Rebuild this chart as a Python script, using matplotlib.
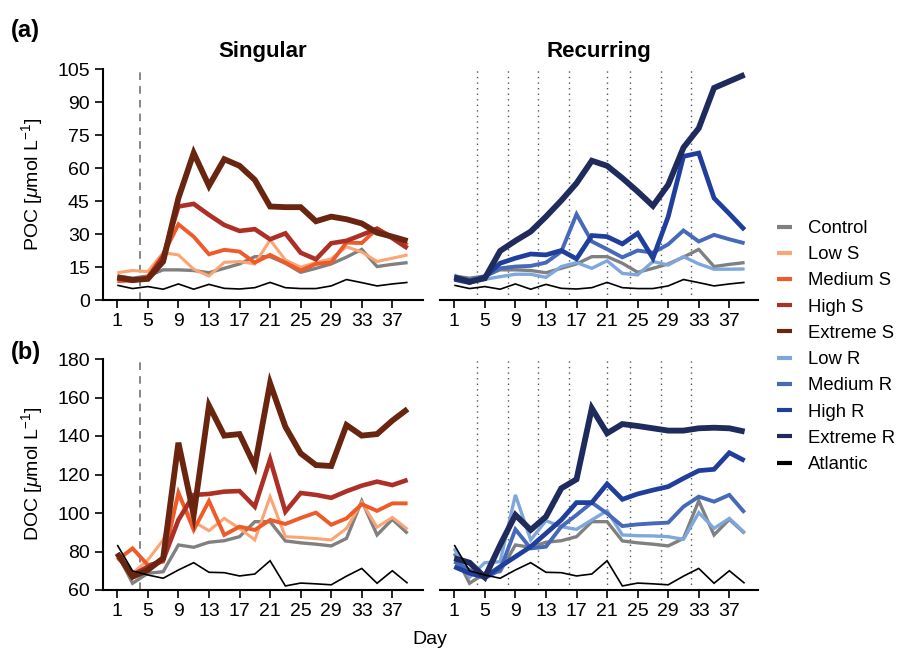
import matplotlib
matplotlib.use("Agg")
import matplotlib.pyplot as plt
from matplotlib.lines import Line2D

plt.rcParams["font.family"] = ["Liberation Sans", "DejaVu Sans"]
plt.rcParams["mathtext.fontset"] = "custom"
plt.rcParams["mathtext.rm"] = "Liberation Sans"
plt.rcParams["mathtext.it"] = "Liberation Sans:italic"

# Sampling days
days = list(range(1, 40, 2))

# ---- POC (µmol L-1) ----
poc_control = [10.9, 9.9, 10.9, 13.7, 13.7, 13.4, 12.4, 14.4, 16.4, 19.7,
               19.7, 16.7, 12.6, 14.4, 16.4, 19.5, 23.0, 15.2, 16.2, 17.0]
poc_atlantic = [6.7, 5.2, 6.1, 4.9, 7.3, 4.9, 7.1, 5.3, 5.0, 5.6,
                8.0, 5.6, 5.2, 5.2, 6.4, 9.3, 7.9, 6.4, 7.3, 8.0]
poc_low_s = [12.4, 13.4, 12.9, 21.5, 20.5, 14.0, 10.9, 17.1, 17.5, 16.4,
             27.3, 18.2, 14.9, 17.0, 18.7, 24.2, 21.8, 17.5, 19.0, 20.5]
poc_medium_s = [8.6, 8.8, 10.6, 20.5, 34.4, 28.8, 20.8, 22.8, 22.0, 17.0,
                20.5, 17.0, 13.4, 16.4, 17.1, 26.1, 25.9, 32.4, 28.8, 25.0]
poc_high_s = [9.9, 8.8, 9.9, 19.7, 42.5, 43.7, 38.7, 34.1, 31.4, 32.2,
              27.6, 30.3, 21.5, 18.5, 25.8, 26.9, 29.6, 32.4, 28.1, 23.5]
poc_extreme_s = [10.3, 9.1, 9.6, 17.5, 46.3, 66.8, 51.9, 64.0, 61.0, 54.6,
                 42.5, 42.2, 42.2, 35.8, 37.9, 36.7, 34.8, 30.6, 28.8, 26.8]
poc_low_r = [11.4, 7.9, 9.4, 10.6, 11.7, 11.7, 10.3, 15.2, 17.0, 14.4,
             17.8, 12.1, 11.4, 17.5, 15.9, 19.7, 16.4, 14.0, 14.0, 14.1]
poc_medium_r = [10.6, 9.1, 10.6, 14.4, 15.2, 15.5, 17.0, 22.0, 39.0, 26.6,
                23.1, 19.4, 22.5, 21.5, 25.3, 31.6, 26.6, 29.6, 27.6, 25.8]
poc_high_r = [9.4, 7.9, 10.6, 16.7, 19.0, 20.9, 20.5, 22.5, 18.7, 29.3,
              28.8, 25.5, 30.3, 19.0, 37.9, 65.3, 66.8, 46.3, 39.2, 31.9]
poc_extreme_r = [10.3, 8.3, 9.9, 22.3, 26.9, 31.1, 37.9, 45.2, 53.1, 63.3,
                 61.0, 55.4, 49.3, 42.8, 52.4, 69.3, 78.1, 96.4, 99.4, 102.4]

# ---- DOC (µmol L-1) ----
doc_control = [79.0, 63.5, 68.7, 69.5, 83.4, 82.2, 84.8, 85.6, 87.7, 95.5,
               95.5, 85.5, 84.5, 83.8, 82.9, 86.8, 106.3, 88.6, 96.7, 89.4]
doc_atlantic = [83.4, 69.9, 67.8, 66.1, 70.4, 74.2, 69.2, 69.0, 67.3, 68.3,
                75.2, 62.1, 63.6, 63.2, 62.7, 67.2, 71.2, 63.5, 70.0, 63.5]
doc_low_s = [76.5, 68.7, 75.6, 86.0, 108.5, 95.5, 90.8, 97.2, 92.0, 86.0,
             108.5, 87.7, 87.3, 86.7, 86.0, 92.0, 105.5, 92.6, 97.7, 91.5]
doc_medium_s = [75.6, 81.6, 73.0, 74.7, 110.6, 91.2, 106.2, 88.6, 92.9, 91.2,
                96.4, 94.3, 97.4, 100.2, 93.9, 97.2, 104.6, 101.1, 105.0, 105.0]
doc_high_s = [79.0, 67.8, 72.1, 75.6, 96.4, 109.4, 109.9, 111.1, 111.4, 103.3,
              127.9, 100.7, 110.4, 109.4, 107.9, 111.3, 114.2, 116.3, 114.5, 117.2]
doc_extreme_s = [79.0, 66.9, 70.4, 76.5, 136.5, 99.0, 155.8, 140.2, 141.0, 124.4,
                 167.4, 144.8, 131.0, 124.9, 124.4, 145.7, 140.2, 141.0, 148.0, 154.0]
doc_low_r = [81.6, 66.6, 74.2, 74.7, 109.4, 86.0, 96.0, 92.9, 91.5, 96.4,
             101.2, 88.6, 88.2, 88.1, 87.7, 86.3, 100.2, 92.0, 97.2, 89.8]
doc_medium_r = [74.7, 70.4, 66.1, 70.4, 91.5, 81.6, 82.5, 92.9, 99.0, 105.4,
                99.8, 93.2, 94.1, 94.6, 95.0, 103.3, 108.5, 105.9, 109.4, 100.2]
doc_high_r = [72.1, 68.7, 66.6, 72.1, 77.3, 82.5, 89.4, 96.4, 105.4, 105.4,
              115.1, 107.1, 109.9, 111.9, 113.7, 118.0, 122.0, 122.7, 131.3, 127.2]
doc_extreme_r = [76.5, 74.2, 66.6, 83.4, 99.0, 91.2, 98.1, 112.8, 117.5, 154.4,
                 141.4, 146.2, 145.2, 144.0, 142.8, 142.8, 144.0, 144.3, 144.0, 142.3]

# Days of the single pulse and of the repeated pulses
singular_day = 4
recurring_days = [4, 8, 12, 16, 21, 24, 28, 32]

x_ticks = list(range(1, 38, 4))
poc_ticks = list(range(0, 106, 15))
doc_ticks = list(range(60, 181, 20))

# Series styles: colour, linewidth
style = {
    "Control": ("#808080", 2.4),
    "Low S": ("#fba474", 2.2),
    "Medium S": ("#ef5a29", 2.8),
    "High S": ("#ad3027", 3.3),
    "Extreme S": ("#69250f", 4.2),
    "Low R": ("#7fa7dc", 2.4),
    "Medium R": ("#4669b9", 2.8),
    "High R": ("#203f9d", 3.4),
    "Extreme R": ("#1e2b5c", 4.2),
    "Atlantic": ("#000000", 1.2),
}

poc_sing = {"Control": poc_control, "Low S": poc_low_s, "Medium S": poc_medium_s,
            "High S": poc_high_s, "Extreme S": poc_extreme_s, "Atlantic": poc_atlantic}
poc_rec = {"Control": poc_control, "Low R": poc_low_r, "Medium R": poc_medium_r,
           "High R": poc_high_r, "Extreme R": poc_extreme_r, "Atlantic": poc_atlantic}
doc_sing = {"Control": doc_control, "Low S": doc_low_s, "Medium S": doc_medium_s,
            "High S": doc_high_s, "Extreme S": doc_extreme_s, "Atlantic": doc_atlantic}
doc_rec = {"Control": doc_control, "Low R": doc_low_r, "Medium R": doc_medium_r,
           "High R": doc_high_r, "Extreme R": doc_extreme_r, "Atlantic": doc_atlantic}

W, H = 899, 648
fig = plt.figure(figsize=(W / 100, H / 100), dpi=100)


def px_axes(x0, y0, x1, y1):
    return fig.add_axes([x0 / W, 1 - y1 / H, (x1 - x0) / W, (y1 - y0) / H])


ax_pl = px_axes(103, 69, 423, 300)
ax_pr = px_axes(440, 69, 758, 300)
ax_dl = px_axes(103, 359, 423, 590)
ax_dr = px_axes(440, 359, 758, 590)

FS = 14


def style_axes(ax, ylim, yticks, show_y):
    ax.set_xlim(-0.87, -0.87 + (ax.get_position().width * W) / 7.64)
    ax.set_ylim(*ylim)
    ax.set_xticks(x_ticks)
    ax.set_yticks(yticks)
    for s in ["top", "right"]:
        ax.spines[s].set_visible(False)
    ax.spines["bottom"].set_linewidth(1.5)
    ax.spines["left"].set_linewidth(1.5)
    ax.tick_params(direction="out", length=6, width=1.2, labelsize=FS, pad=3.5)
    if not show_y:
        ax.spines["left"].set_visible(False)
        ax.tick_params(axis="y", left=False, labelleft=False)
    ax.set_facecolor("none")


def draw(ax, series):
    for name, vals in series.items():
        c, lw = style[name]
        ax.plot(days, vals, color=c, lw=lw, solid_joinstyle="miter",
                solid_capstyle="butt", zorder=3)


for ax, series in [(ax_pl, poc_sing), (ax_pr, poc_rec), (ax_dl, doc_sing), (ax_dr, doc_rec)]:
    draw(ax, series)

for ax in (ax_pl, ax_dl):
    ax.axvline(singular_day, color="#666666", lw=1.1, ls=(0, (5, 4)), zorder=2)
for ax in (ax_pr, ax_dr):
    for d in recurring_days:
        ax.axvline(d, color="#555555", lw=1.0, ls=(0, (1, 3)), zorder=2)

style_axes(ax_pl, (0, 105), poc_ticks, True)
style_axes(ax_pr, (0, 105), poc_ticks, False)
style_axes(ax_dl, (60, 180), doc_ticks, True)
style_axes(ax_dr, (60, 180), doc_ticks, False)

ax_pl.set_title("Singular", fontsize=16, fontweight="bold", pad=9)
ax_pr.set_title("Recurring", fontsize=16, fontweight="bold", pad=9)

fig.text(32 / W, 1 - 184 / H, r"POC [$\mu$mol L$^{-1}$]", rotation=90,
         ha="center", va="center", fontsize=FS)
fig.text(32 / W, 1 - 474 / H, r"DOC [$\mu$mol L$^{-1}$]", rotation=90,
         ha="center", va="center", fontsize=FS)
fig.text(11 / W, 1 - 30 / H, "(a)", fontsize=17, fontweight="bold", ha="left", va="center")
fig.text(11 / W, 1 - 352 / H, "(b)", fontsize=17, fontweight="bold", ha="left", va="center")
fig.text(430 / W, 1 - 640 / H, "Day", fontsize=FS, ha="center", va="center")

handles = [Line2D([], [], color=style[n][0], lw=3.0, solid_capstyle="butt") for n in style]
fig.legend(handles, list(style.keys()), loc="upper left",
           bbox_to_anchor=(777 / W, 1 - 220 / H), frameon=False, fontsize=13.3,
           handlelength=0.8, handletextpad=0.9, labelspacing=0.5, borderpad=0,
           borderaxespad=0)

fig.savefig("out.png", dpi=100)
